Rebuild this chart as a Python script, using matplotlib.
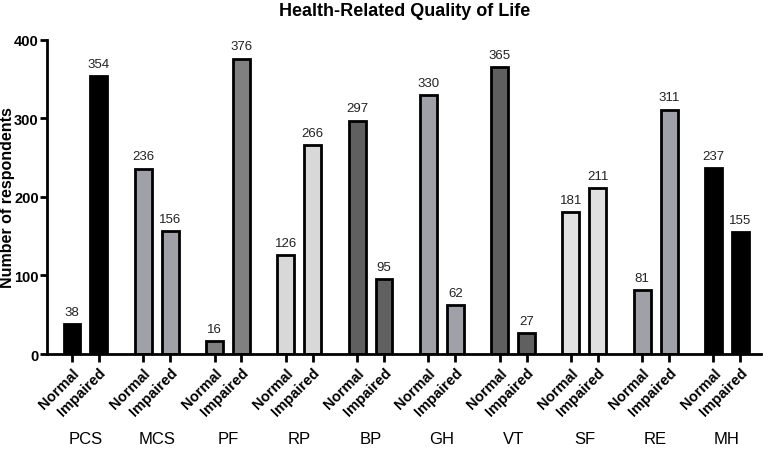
import matplotlib.pyplot as plt
import numpy as np

plt.rcParams['font.family'] = ['Liberation Sans', 'DejaVu Sans']

domains = ['PCS', 'MCS', 'PF', 'RP', 'BP', 'GH', 'VT', 'SF', 'RE', 'MH']
normal = [38, 236, 16, 126, 297, 330, 365, 181, 81, 237]
impaired = [354, 156, 376, 266, 95, 62, 27, 211, 311, 155]
colors = ['#000000', '#a0a0a8', '#808080', '#d8d8d8', '#606060',
          '#a0a0a8', '#606060', '#e0e0e0', '#a0a0a8', '#000000']

fig = plt.figure(figsize=(7.64, 4.52), dpi=100)
ax = fig.add_axes([0.0615, 0.2146, 0.935, 0.695])

gap = 2.65
xn = np.arange(len(domains)) * gap
xi = xn + 1
w = 0.63

ax.bar(xn, normal, w, color=colors, edgecolor='black', linewidth=2)
ax.bar(xi, impaired, w, color=colors, edgecolor='black', linewidth=2)

for x, v in zip(np.concatenate([xn, xi]), normal + impaired):
    ax.text(x, v + 8, str(v), ha='center', va='bottom', fontsize=9.5,
            color='#222222')

ax.set_xlim(-0.93, xi[-1] + 0.78)
ax.set_ylim(0, 400)
ax.set_yticks([0, 100, 200, 300, 400])
for lbl in ax.get_yticklabels():
    lbl.set_fontweight('bold')
    lbl.set_fontsize(10.5)

ticks = np.concatenate([xn, xi])
order = np.argsort(ticks)
labels = np.array(['Normal'] * len(xn) + ['Impaired'] * len(xi))[order]
ax.set_xticks(ticks[order])
ax.set_xticklabels(labels, rotation=45, ha='right', rotation_mode='anchor',
                   fontweight='bold', fontsize=10.5)

for x, d in zip((xn + xi) / 2, domains):
    ax.text(x, -0.27, d, transform=ax.get_xaxis_transform(),
            ha='center', va='center', fontsize=12)

ax.spines['top'].set_visible(False)
ax.spines['right'].set_visible(False)
ax.spines['left'].set_linewidth(2)
ax.spines['bottom'].set_linewidth(2)
ax.tick_params(axis='y', width=2, length=5, pad=1)
ax.tick_params(axis='x', width=2, length=6, pad=2)

ax.set_ylabel('Number of respondents', fontweight='bold', fontsize=11.5)
ax.yaxis.set_label_coords(-0.045, 0.5)
ax.set_title('Health-Related Quality of Life', fontweight='bold', fontsize=13, pad=18)

fig.savefig('out.png', dpi=100)
